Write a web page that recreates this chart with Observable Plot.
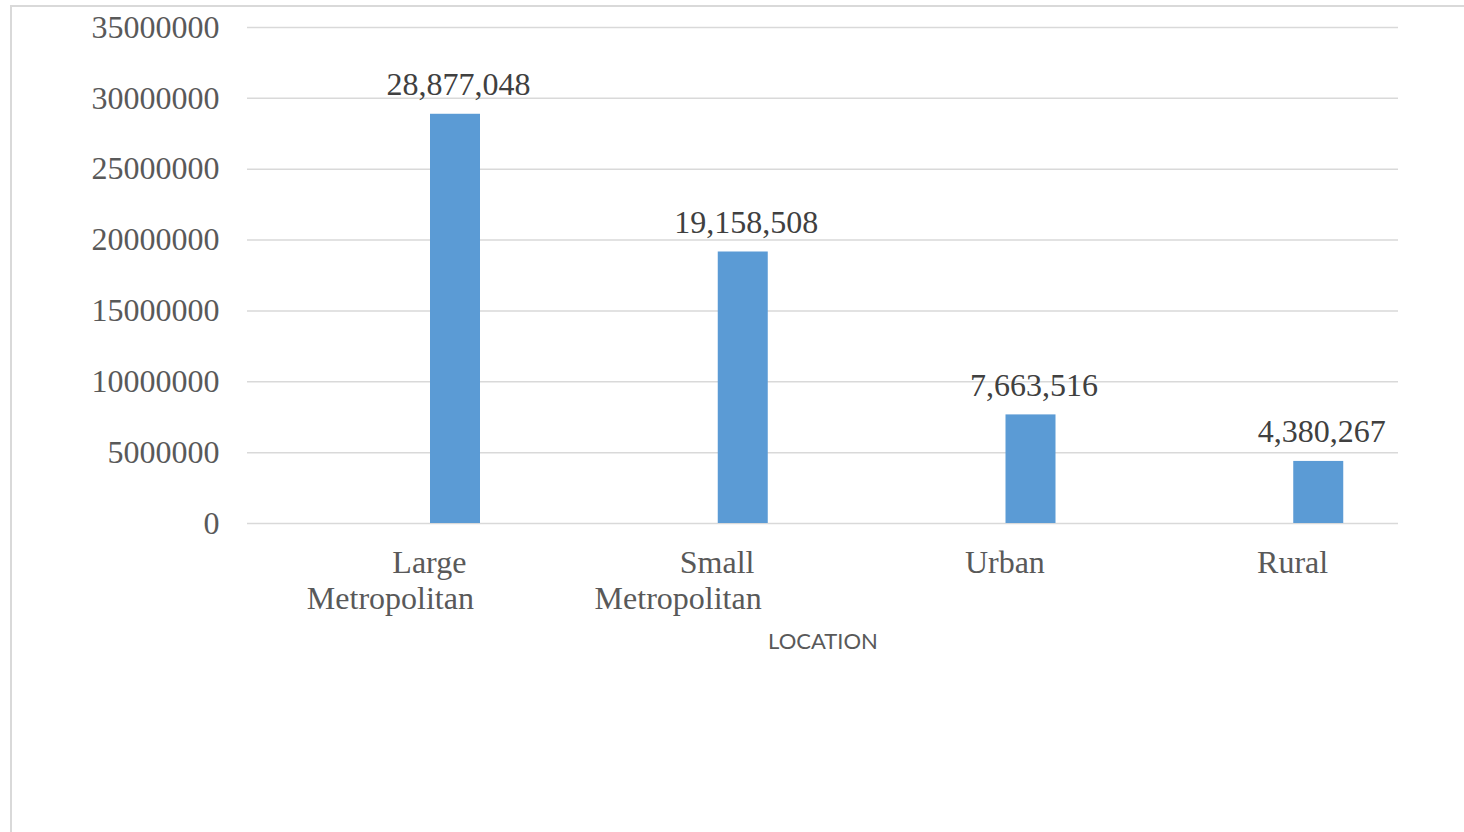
<!DOCTYPE html>
<html>
<head>
<meta charset="utf-8">
<script src="https://cdn.jsdelivr.net/npm/d3@7"></script>
<script src="https://cdn.jsdelivr.net/npm/@observablehq/plot@0.6"></script>
<style>
  html, body { margin: 0; padding: 0; background: #fff; overflow: hidden; }
  #wrap { position: relative; width: 1464px; height: 832px; }
  #border { position: absolute; left: 10px; top: 5px; width: 1470px; height: 840px;
            border: 2px solid #d9d9d9; pointer-events: none; }
  #chart { position: absolute; left: 0; top: 0; }
</style>
</head>
<body>
<div id="wrap"><div id="chart"></div><div id="border"></div></div>
<script>
const locations = ["Large Metropolitan", "Small Metropolitan", "Urban", "Rural"];
const values = [28877048, 19158508, 7663516, 4380267];
const yTicks = [0, 5000000, 10000000, 15000000, 20000000, 25000000, 30000000, 35000000];
const axisTitle = "LOCATION";

const data = locations.map((loc, i) => ({loc, value: values[i]}));

// split category names into wrapped lines (as Excel wraps them)
const firstLines = locations.map(loc => ({loc, word: loc.split(" ")[0]}));
const secondLines = locations.filter(loc => loc.includes(" "))
  .map(loc => ({loc, word: loc.split(" ").slice(1).join(" ")}));

const serif = "'Liberation Serif', 'Times New Roman', serif";

const chart = Plot.plot({
  width: 1464,
  height: 832,
  marginLeft: 247,
  marginRight: 66,
  marginTop: 27,
  marginBottom: 309,
  style: {background: "transparent", fontFamily: serif, fontSize: "32px", color: "#595959"},
  x: {domain: locations, padding: 0, round: false, axis: null},
  y: {domain: [0, 35000000], axis: null},
  marks: [
    Plot.gridY(yTicks, {stroke: "#d9d9d9", strokeOpacity: 1, strokeWidth: 1.5}),
    Plot.axisY(yTicks, {tickSize: 0, tickPadding: 28, tickFormat: d3.format("d"),
      fontSize: 32, fontFamily: serif, fill: "#595959", label: null}),
    Plot.barY(data, {x: "loc", y: "value", fill: "#5b9bd5", insetLeft: 183, insetRight: 54.75}),
    Plot.text(data, {x: "loc", y: "value", text: d => d3.format(",")(d.value),
      dx: 67, dy: -19, lineAnchor: "bottom", fontSize: 32, fontFamily: serif, fill: "#404040"}),
    Plot.text(firstLines, {x: "loc", y: 0, text: "word", dx: 38, dy: 39,
      lineAnchor: "middle", fontSize: 32, fontFamily: serif, fill: "#595959"}),
    Plot.text(secondLines, {x: "loc", y: 0, text: "word", dx: -1, dy: 75,
      lineAnchor: "middle", fontSize: 32, fontFamily: serif, fill: "#595959"}),
    Plot.text([axisTitle], {frameAnchor: "bottom", text: d => d, dy: 118, lineAnchor: "middle",
      fontSize: 22, fontFamily: "Lato, 'Open Sans', sans-serif", fill: "#595959"})
  ]
});
document.getElementById("chart").appendChild(chart);
</script>
</body>
</html>
